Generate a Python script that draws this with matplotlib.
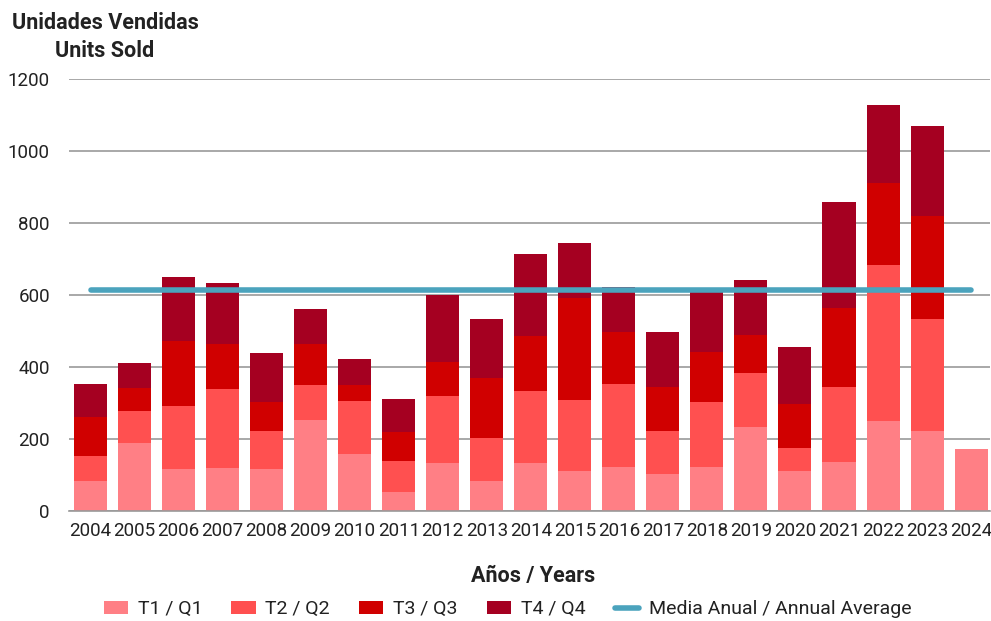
import matplotlib
matplotlib.use("Agg")
import matplotlib.pyplot as plt
import numpy as np

years = ["2004","2005","2006","2007","2008","2009","2010","2011","2012","2013",
         "2014","2015","2016","2017","2018","2019","2020","2021","2022","2023","2024"]
q1 = [83, 188, 116, 121, 118, 252, 159, 52, 134, 83, 134, 112, 123, 102, 123, 234, 112, 137, 251, 222, 172]
q2 = [70, 90, 177, 219, 103, 98, 147, 88, 185, 120, 199, 196, 230, 119, 179, 148, 62, 207, 431, 312, 0]
q3 = [107, 63, 179, 123, 81, 113, 43, 79, 94, 167, 152, 284, 145, 123, 141, 106, 122, 221, 230, 286, 0]
q4 = [93, 69, 177, 171, 137, 97, 73, 91, 187, 162, 228, 151, 124, 154, 165, 154, 159, 292, 216, 250, 0]
annual_avg = [614] * len(years)

labels = ["T1 / Q1", "T2 / Q2", "T3 / Q3", "T4 / Q4"]
colors = ["#FF7F85", "#FF5050", "#D00000", "#A50021"]
avg_label = "Media Anual / Annual Average"
avg_color = "#4BA3BD"

plt.rcParams['font.family'] = ['Roboto', 'DejaVu Sans']

fig = plt.figure(figsize=(9.91, 6.21), dpi=100)
ax = fig.add_axes([0.07, 0.177, 0.929, 0.696])

x = np.arange(len(years))
bottom = np.zeros(len(years))
handles = []
for vals, lab, col in zip([q1, q2, q3, q4], labels, colors):
    v = np.array(vals, dtype=float)
    b = ax.bar(x, v, bottom=bottom, width=0.75, color=col, label=lab, zorder=2)
    handles.append(b)
    bottom += v

ln, = ax.plot(x, annual_avg, color=avg_color, lw=4, solid_capstyle='round', label=avg_label, zorder=3)
handles.append(ln)

ax.set_xlim(-0.48, 20.43)
ax.set_ylim(0, 1200)
ax.set_yticks([0, 200, 400, 600, 800, 1000, 1200])
ax.yaxis.grid(True, color="#999999", lw=1.2, zorder=0)
ax.set_axisbelow(True)
for s in ["top", "right", "left"]:
    ax.spines[s].set_visible(False)
ax.spines["bottom"].set_color("#999999")
ax.spines["bottom"].set_linewidth(1.2)
ax.tick_params(axis='y', length=0, labelsize=13.5, colors="#222222", pad=14)
ax.tick_params(axis='x', length=0, labelsize=13.5, colors="#222222", pad=8)
ax.set_xticks(x)
ax.set_xticklabels(years)

fig.text(0.106, 0.963, "Unidades Vendidas", ha="center", va="center", fontsize=15.5, fontweight="bold", color="#222222")
fig.text(0.106, 0.918, "Units Sold", ha="center", va="center", fontsize=15.5, fontweight="bold", color="#222222")
fig.text(0.538, 0.073, "Años / Years", ha="center", va="center", fontsize=15.5, fontweight="bold", color="#222222")

fig.legend(handles=handles, labels=labels + [avg_label], loc="center", bbox_to_anchor=(0.512, 0.019),
           ncol=5, frameon=False, fontsize=14, handlelength=1.25, handleheight=0.65,
           columnspacing=1.5, handletextpad=0.5, labelcolor="#222222")

fig.savefig("out.png", dpi=100)
